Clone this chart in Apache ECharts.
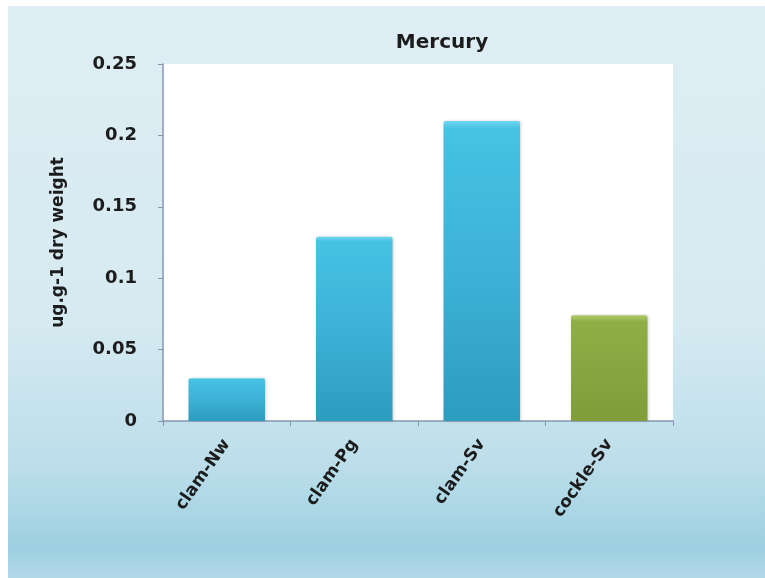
<!DOCTYPE html>
<html>
<head>
<meta charset="utf-8">
<style>
  html, body { margin: 0; padding: 0; background: #ffffff; }
  #chart { width: 765px; height: 578px; }
</style>
<script src="https://cdn.jsdelivr.net/npm/echarts@6/dist/echarts.min.js"></script>
</head>
<body>
<div id="chart"></div>
<script>
// Mercury concentration per sample group
const categories = ['clam-Nw', 'clam-Pg', 'clam-Sv', 'cockle-Sv'];
const mercury = [0.030, 0.129, 0.210, 0.074];
const yTicks = { min: 0, max: 0.25, step: 0.05 };

const blueFill = new echarts.graphic.LinearGradient(0, 0, 0, 1, [
  { offset: 0, color: '#6fd6f0' },
  { offset: 0.025, color: '#46c2e3' },
  { offset: 0.5, color: '#3db2d6' },
  { offset: 1, color: '#2c9cbf' }
]);
const greenFill = new echarts.graphic.LinearGradient(0, 0, 0, 1, [
  { offset: 0, color: '#aecb6a' },
  { offset: 0.06, color: '#8fae45' },
  { offset: 1, color: '#7f9e3a' }
]);

const font = 'DejaVu Sans';
const ink = '#1c1c1c';

const chart = echarts.init(document.getElementById('chart'), null, { renderer: 'canvas' });

chart.setOption({
  animation: false,
  graphic: [
    {
      type: 'rect',
      silent: true,
      z: -10,
      shape: { x: 8, y: 6, width: 757, height: 572 },
      style: {
        fill: new echarts.graphic.LinearGradient(0, 0, 0, 1, [
          { offset: 0, color: '#deeef4' },
          { offset: 0.55, color: '#d6eaf1' },
          { offset: 0.8, color: '#bcdeea' },
          { offset: 0.95, color: '#9dd0e1' },
          { offset: 1, color: '#b2d8e8' }
        ])
      }
    }
  ],
  title: {
    text: 'Mercury',
    left: 437,
    textAlign: 'center',
    top: 28,
    textStyle: { fontFamily: font, fontWeight: 'bold', fontSize: 20, color: ink }
  },
  grid: {
    left: 163,
    right: 92,
    top: 64,
    bottom: 157,
    show: true,
    backgroundColor: '#ffffff',
    borderWidth: 0
  },
  xAxis: {
    type: 'category',
    data: categories,
    axisLine: { lineStyle: { color: '#8796b0', width: 1.5 } },
    axisTick: { show: true, length: 5, lineStyle: { color: '#8796b0' } },
    axisLabel: {
      rotate: 55,
      margin: 20,
      fontFamily: font,
      fontWeight: 'bold',
      fontSize: 17,
      color: ink
    }
  },
  yAxis: {
    type: 'value',
    min: yTicks.min,
    max: yTicks.max,
    interval: yTicks.step,
    name: 'ug.g-1 dry weight',
    nameLocation: 'middle',
    nameGap: 96,
    nameRotate: 90,
    nameTextStyle: { fontFamily: font, fontWeight: 'bold', fontSize: 17, color: ink },
    axisLine: { show: true, lineStyle: { color: '#8796b0', width: 1.5 } },
    axisTick: { show: true, length: 5, lineStyle: { color: '#8796b0' } },
    splitLine: { show: false },
    axisLabel: {
      margin: 26,
      fontFamily: font,
      fontWeight: 'bold',
      fontSize: 18,
      color: ink
    }
  },
  series: [
    {
      type: 'bar',
      barCategoryGap: '40%',
      data: mercury.map((v, i) => ({
        value: v,
        itemStyle: {
          color: categories[i].startsWith('cockle') ? greenFill : blueFill,
          borderRadius: [2, 2, 0, 0],
          shadowColor: 'rgba(0,0,0,0.18)',
          shadowBlur: 3,
          shadowOffsetX: 1
        }
      }))
    }
  ]
});
</script>
</body>
</html>
